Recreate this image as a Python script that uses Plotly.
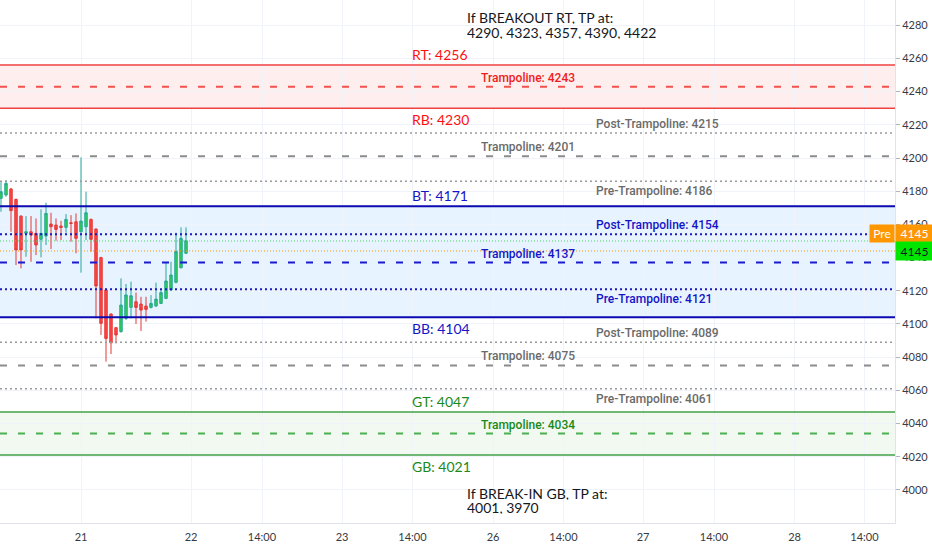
import plotly.graph_objects as go

# Candles (hourly-ish bars, index = bar number)
bar_idx = list(range(38))
opens = [4175.7, 4177.7, 4181.3, 4175.1, 4165.0, 4154.6, 4155.6, 4154.6, 4151.0, 4153.0,
         4160.2, 4159.6, 4159.0, 4158.2, 4161.0, 4161.6, 4155.6, 4158.6, 4163.0, 4157.2,
         4140.0, 4120.5, 4106.0, 4097.8, 4095.4, 4103.4, 4110.0, 4113.4, 4112.0, 4110.8,
         4110.0, 4110.8, 4112.4, 4115.4, 4120.5, 4125.1, 4133.9, 4142.6]
highs = [4185.7, 4186.7, 4182.0, 4175.5, 4165.5, 4165.0, 4165.0, 4163.6, 4169.1, 4173.1,
         4167.0, 4163.6, 4162.2, 4166.2, 4165.6, 4166.6, 4200.4, 4179.7, 4163.5, 4157.5,
         4140.5, 4120.8, 4106.3, 4098.0, 4127.5, 4124.1, 4125.5, 4118.9, 4116.4, 4116.4,
         4117.4, 4124.9, 4120.5, 4136.9, 4137.5, 4155.0, 4158.2, 4158.2]
lows = [4167.6, 4176.7, 4155.6, 4135.5, 4133.5, 4140.5, 4137.5, 4141.5, 4140.1, 4147.6,
        4145.2, 4150.2, 4150.6, 4155.0, 4149.6, 4142.6, 4130.9, 4150.6, 4143.6, 4103.4,
        4093.4, 4077.3, 4081.9, 4088.3, 4094.8, 4102.4, 4103.4, 4100.0, 4095.8, 4101.4,
        4109.4, 4110.4, 4112.0, 4115.0, 4120.1, 4124.5, 4133.5, 4142.2]
closes = [4179.7, 4184.7, 4168.3, 4144.6, 4144.6, 4155.6, 4153.6, 4147.6, 4154.6, 4166.6,
          4158.6, 4157.0, 4158.2, 4163.0, 4160.6, 4151.6, 4162.0, 4167.0, 4151.0, 4122.9,
          4100.4, 4091.3, 4088.7, 4093.4, 4111.4, 4117.5, 4117.0, 4110.0, 4108.4, 4108.8,
          4112.4, 4115.0, 4118.9, 4125.9, 4129.5, 4143.6, 4151.6, 4150.2]

# x axis labels
tick_pos = [16, 38, 52.2, 68.2, 82.3, 98.4, 112.5, 128.4, 142.6, 158.7, 172.7]
tick_text = ["21", "22", "14:00", "23", "14:00", "26", "14:00", "27", "14:00", "28", "14:00"]
y_ticks = list(range(4000, 4281, 20))

# Levels
red_zone = [4256, 4243, 4230]      # RT, trampoline, RB
upper_mid = [4215, 4201, 4186]     # post, trampoline, pre
blue_zone = [4171, 4137, 4104]     # BT, trampoline, BB
blue_mid = [4154, 4121]            # post, pre
lower_mid = [4089, 4075, 4061]     # post, trampoline, pre
green_zone = [4047, 4034, 4021]    # GT, trampoline, GB

breakout_tp = [4290, 4323, 4357, 4390, 4422]
breakin_tp = [4001, 3970]

last_price = 4150
pre_price = 4144
last_label = "4145"
pre_label = "4145"

FONT = "Lato"
SMALL_FONT = "Roboto"

fig = go.Figure()

fig.add_trace(go.Candlestick(
    x=bar_idx, open=opens, high=highs, low=lows, close=closes,
    increasing=dict(line=dict(color="#27a69a", width=1), fillcolor="#2ed047"),
    decreasing=dict(line=dict(color="#e53935", width=1), fillcolor="#ff4545"),
    whiskerwidth=0, showlegend=False, hoverinfo="skip",
))


def hline(y, color, width=1.5, dash="solid"):
    fig.add_shape(type="line", xref="paper", x0=0, x1=1, yref="y", y0=y, y1=y,
                  line=dict(color=color, width=width, dash=dash), layer="above")


def band(y0, y1, color):
    fig.add_shape(type="rect", xref="paper", x0=0, x1=1, yref="y", y0=y0, y1=y1,
                  fillcolor=color, line=dict(width=0), layer="below")


def label(x, y, text, color, above=True, main=False):
    if main:
        font = dict(family=FONT, size=14, color=color)
    else:
        font = dict(family=SMALL_FONT, size=12, color=color, weight=500)
    fig.add_annotation(x=x, y=y, xref="x", yref="y", text=text, showarrow=False,
                       xanchor="left", yanchor="bottom" if above else "top",
                       yshift=0 if above else -1, font=font)


DASH = "7px,11px"
DOT = "2px,3px"
X_MAIN, X_TRAMP, X_SIDE = 81.8, 95.6, 118.6

# red zone
band(red_zone[2], red_zone[0], "rgba(244,67,54,0.09)")
hline(red_zone[0], "#f04040", 1.5)
hline(red_zone[1], "#ef5350", 2, DASH)
hline(red_zone[2], "#f04040", 1.5)
label(X_MAIN, red_zone[0], "RT: %d" % red_zone[0], "#ff1010", True, True)
label(X_TRAMP, red_zone[1], "Trampoline: %d" % red_zone[1], "#f01c1c")
label(X_MAIN, red_zone[2], "RB: %d" % red_zone[2], "#ff1010", False, True)

# upper gray
hline(upper_mid[0], "#9a9a9a", 1.5, DOT)
hline(upper_mid[1], "#8c8c8c", 2, DASH)
hline(upper_mid[2], "#9a9a9a", 1.5, DOT)
label(X_SIDE, upper_mid[0], "Post-Trampoline: %d" % upper_mid[0], "#6a6a6a")
label(X_TRAMP, upper_mid[1], "Trampoline: %d" % upper_mid[1], "#6a6a6a")
label(X_SIDE, upper_mid[2], "Pre-Trampoline: %d" % upper_mid[2], "#6a6a6a", above=False)

# blue zone
band(blue_zone[2], blue_zone[0], "rgba(33,150,243,0.11)")
hline(blue_zone[0], "#0a0ab0", 2)
hline(blue_mid[0], "#1a1ac0", 2, DOT)
hline(blue_zone[1], "#1a1ad0", 2, DASH)
hline(blue_mid[1], "#1a1ac0", 2, DOT)
hline(blue_zone[2], "#0a0ab0", 2)
label(X_MAIN, blue_zone[0], "BT: %d" % blue_zone[0], "#1515c8", True, True)
label(X_SIDE, blue_mid[0], "Post-Trampoline: %d" % blue_mid[0], "#1515c8")
label(X_TRAMP, blue_zone[1], "Trampoline: %d" % blue_zone[1], "#1515c8")
label(X_SIDE, blue_mid[1], "Pre-Trampoline: %d" % blue_mid[1], "#1515c8", above=False)
label(X_MAIN, blue_zone[2], "BB: %d" % blue_zone[2], "#1515c8", False, True)

# lower gray
hline(lower_mid[0], "#9a9a9a", 1.5, DOT)
hline(lower_mid[1], "#8c8c8c", 2, DASH)
hline(lower_mid[2], "#9a9a9a", 1.5, DOT)
label(X_SIDE, lower_mid[0], "Post-Trampoline: %d" % lower_mid[0], "#6a6a6a")
label(X_TRAMP, lower_mid[1], "Trampoline: %d" % lower_mid[1], "#6a6a6a")
label(X_SIDE, lower_mid[2], "Pre-Trampoline: %d" % lower_mid[2], "#6a6a6a", above=False)

# green zone
band(green_zone[2], green_zone[0], "rgba(76,175,80,0.08)")
hline(green_zone[0], "#43a047", 1.5)
hline(green_zone[1], "#4caf50", 2, DASH)
hline(green_zone[2], "#43a047", 1.5)
label(X_MAIN, green_zone[0], "GT: %d" % green_zone[0], "#1a8a1a", True, True)
label(X_TRAMP, green_zone[1], "Trampoline: %d" % green_zone[1], "#1a8a1a")
label(X_MAIN, green_zone[2], "GB: %d" % green_zone[2], "#1a8a1a", False, True)

# last / pre-market price lines
hline(last_price, "#4cd964", 1, "1px,2px")
hline(pre_price, "#ff9800", 1, "1px,2px")

# take-profit notes
top_lines = ["If BREAKOUT RT, TP at:", ", ".join(str(v) for v in breakout_tp)]
bot_lines = ["If BREAK-IN GB, TP at:", ", ".join(str(v) for v in breakin_tp)]
for txt, yp in zip(top_lines + bot_lines, [0.9675, 0.9388, 0.0574, 0.0306]):
    fig.add_annotation(x=92.8, y=yp, xref="x", yref="paper", text=txt, showarrow=False,
                       xanchor="left", yanchor="middle", height=14,
                       font=dict(family=FONT, size=14, color="#131722"))

# price tags on the axis
fig.add_annotation(x=1, y=pre_price, xref="paper", yref="y", text="Pre", showarrow=False,
                   xanchor="right", yanchor="middle", yshift=17, bgcolor="#ff9800",
                   width=22, height=15, borderpad=1,
                   font=dict(family=FONT, size=12, color="white"))
fig.add_annotation(x=1, y=pre_price, xref="paper", yref="y", text=pre_label, showarrow=False,
                   xanchor="left", yanchor="middle", yshift=17, bgcolor="#ff9800",
                   width=35, height=15, borderpad=1,
                   font=dict(family=FONT, size=12, color="white"))
fig.add_annotation(x=1, y=pre_price, xref="paper", yref="y", text=last_label, showarrow=False,
                   xanchor="left", yanchor="middle", bgcolor="#00e600",
                   width=35, height=16, borderpad=1,
                   font=dict(family=FONT, size=12, color="#131722"))

fig.update_layout(
    width=932, height=550,
    margin=dict(l=0, r=37, t=0, b=27),
    paper_bgcolor="white", plot_bgcolor="white",
    showlegend=False,
    xaxis=dict(range=[-0.2, 178.8], tickvals=tick_pos, ticktext=tick_text,
               showgrid=True, gridcolor="#f0f3fa", zeroline=False,
               showline=True, linecolor="#e0e3eb", ticks="", ticklabelstandoff=4,
               tickfont=dict(family=FONT, size=11, color="#363a45"),
               rangeslider=dict(visible=False), fixedrange=True),
    yaxis=dict(range=[3980.1, 4295.2], side="right", tickvals=y_ticks,
               showgrid=True, gridcolor="#f0f3fa", zeroline=False,
               showline=True, linecolor="#e0e3eb", ticks="outside", ticklen=4,
               tickcolor="#b2b5be",
               tickfont=dict(family=FONT, size=11, color="#363a45"), fixedrange=True),
)

# page body has a default 8px margin, drop it so the 932x550 figure fits the window
fig.write_html("out.html", config={"displayModeBar": False},
               post_script="document.body.style.margin='0';document.body.style.overflow='hidden';")
